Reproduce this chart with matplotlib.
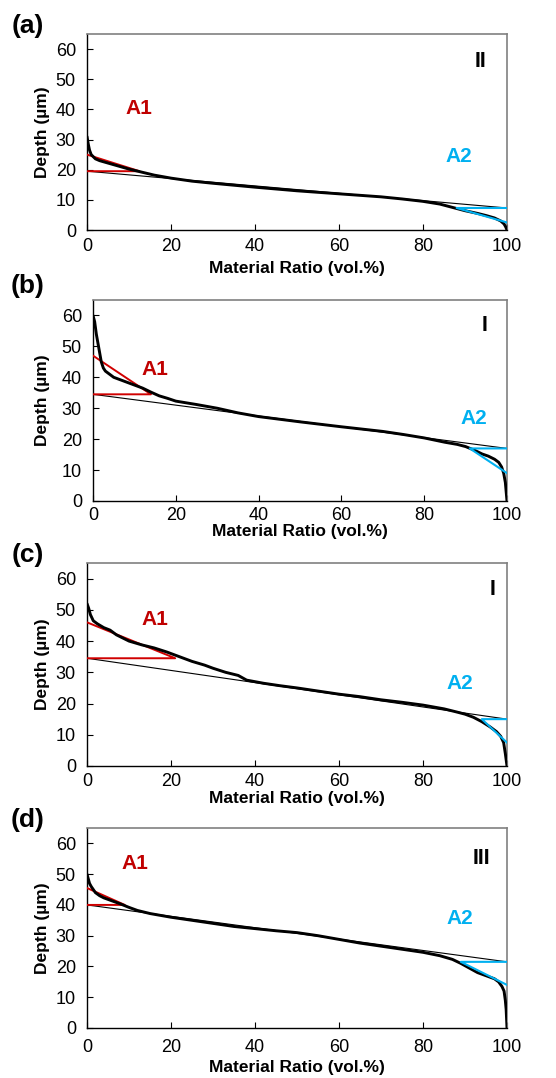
import matplotlib
matplotlib.use("Agg")
import matplotlib.pyplot as plt

plt.rcParams['font.family'] = ['Liberation Sans', 'DejaVu Sans']

# ---------------- data ----------------
# Panel (a)
a_x = [0, 0.3, 0.6, 1, 2, 3, 5, 8, 10, 13, 16, 20, 25, 30, 40, 50, 60, 70, 75, 80, 84, 87, 90, 93, 95, 97, 98.5, 99.3, 99.7, 100]
a_y = [31, 28.5, 26.5, 25, 23.6, 23, 22.2, 21, 20.2, 19.2, 18.2, 17.2, 16.2, 15.5, 14.2, 13, 12, 11, 10.3, 9.5, 8.6, 7.5, 6.4, 5.5, 4.8, 4, 3, 2, 1, 0]
a_base = [19.5, 7.3]
a_red = [[0, 12.5, 0], [19.5, 19.5, 25]]
a_blue = [[100, 88, 100], [7.3, 7.3, 2.5]]

# Panel (b)
b_x = [0, 0.4, 0.8, 1.2, 1.6, 2, 2.5, 3, 4, 5, 6, 8, 10, 12, 14, 16, 18, 20, 25, 30, 35, 40, 50, 60, 70, 75, 80, 85, 88, 90, 92, 94, 95.5, 97, 98, 98.7, 99.2, 99.6, 99.8, 100]
b_y = [60, 58, 54, 51, 48, 45, 43, 42, 41, 40, 39.5, 38.5, 37.5, 36.5, 35.2, 34, 33.2, 32.3, 31.2, 30, 28.5, 27.3, 25.6, 24, 22.5, 21.5, 20.4, 19, 18.3, 17.6, 16.5, 15.2, 14.5, 13.5, 12.5, 11, 9, 6, 3, 0]
b_base = [34.5, 17]
b_red = [[0, 14, 0], [34.5, 34.5, 47]]
b_blue = [[100, 91, 100], [17, 17, 9]]

# Panel (c)
c_x = [0, 0.4, 0.8, 1.5, 2.5, 4, 5.5, 7, 8.5, 10, 13, 16, 19, 22, 25, 28, 30, 33, 36, 38, 42, 46, 50, 55, 60, 65, 70, 75, 80, 85, 88, 90, 92, 94, 96, 97.5, 98.5, 99.2, 99.6, 100]
c_y = [52, 50.5, 48.5, 46.5, 45.5, 44.3, 43.5, 42, 41, 40, 38.8, 37.8, 36.5, 35, 33.5, 32.3, 31.3, 30, 29, 27.5, 26.5, 25.7, 25, 24, 23, 22.2, 21.2, 20.4, 19.5, 18.3, 17.3, 16.6, 15.6, 14.2, 12.5, 11, 9.5, 7.5, 4, 0]
c_base = [34.5, 15]
c_red = [[0, 21, 0], [34.5, 34.5, 46]]
c_blue = [[100, 94, 100], [15, 15, 7.5]]

# Panel (d)
d_x = [0, 0.3, 0.6, 1, 1.5, 2, 3, 4, 6, 8, 10, 12, 15, 20, 25, 30, 35, 40, 45, 50, 55, 60, 65, 70, 75, 80, 84, 87, 89, 91, 93, 95, 97, 98, 98.8, 99.3, 99.6, 99.8, 100]
d_y = [50, 48.5, 47, 46, 45, 44, 43, 42.3, 41.3, 40.3, 39.2, 38.2, 37.2, 36, 35, 34, 33, 32.3, 31.6, 31, 30, 28.8, 27.6, 26.6, 25.6, 24.6, 23.5, 22.3, 21, 19.5, 18, 17, 16, 15, 13.5, 12, 9, 6, 0]
d_base = [40, 21.5]
d_red = [[0, 9, 0], [40, 40, 45.5]]
d_blue = [[100, 89, 100], [21.5, 21.5, 14]]

labels = ["(a)", "(b)", "(c)", "(d)"]
classes = ["II", "I", "I", "III"]
xticks = [0, 20, 40, 60, 80, 100]
yticks = [0, 10, 20, 30, 40, 50, 60]

curves = [(a_x, a_y), (b_x, b_y), (c_x, c_y), (d_x, d_y)]
bases = [a_base, b_base, c_base, d_base]
reds = [a_red, b_red, c_red, d_red]
blues = [a_blue, b_blue, c_blue, d_blue]

# layout in pixels (left, top, right, bottom)
W, H = 556, 1078
boxes = [(87, 34, 507, 230), (93, 300, 507, 501), (87, 563, 507, 766), (87, 828, 507, 1028)]
a1_pos = [(12.4, 40.3), (15, 42.6), (16.2, 46.8), (11.4, 53.6)]
a2_pos = [(88.6, 24.5), (92, 26.8), (88.8, 26.3), (88.8, 35.7)]
cls_pos = [(93.6, 56), (94.7, 56.7), (96.6, 56.4), (94, 55)]
letter_y = [26, 286, 555, 820]
xpad = [6, 4, 5, 8]
xlabelpad = [4, 0.5, 0.5, 3]

RED = '#C00000'
BLUE = '#00B0F0'

fig = plt.figure(figsize=(W / 100, H / 100), dpi=100)
for i in range(4):
    l, t, r, b = boxes[i]
    ax = fig.add_axes([l / W, 1 - b / H, (r - l) / W, (b - t) / H])
    ax.set_xlim(0, 100)
    ax.set_ylim(0, 65)
    ax.set_xticks(xticks)
    ax.set_yticks(yticks)
    ax.tick_params(direction='in', length=4, width=0.8, labelsize=13, colors='black')
    ax.tick_params(axis='x', pad=xpad[i])
    ax.tick_params(axis='y', pad=8)
    for s in ['left', 'bottom']:
        ax.spines[s].set_color('black')
        ax.spines[s].set_linewidth(1.0)
    for s in ['top', 'right']:
        ax.spines[s].set_color('#808080')
        ax.spines[s].set_linewidth(1.2)

    ax.plot([0, 100], bases[i], color='black', lw=0.8, zorder=2)
    ax.plot(reds[i][0], reds[i][1], color='#D00000', lw=1.4, zorder=3)
    cx, cy = curves[i]
    ax.plot(cx, cy, color='black', lw=2.1, zorder=4, solid_capstyle='round')
    ax.plot(blues[i][0], blues[i][1], color=BLUE, lw=1.5, zorder=5)

    ax.text(*a1_pos[i], "A1", color=RED, fontsize=15, fontweight='bold', ha='center', va='center')
    ax.text(*a2_pos[i], "A2", color=BLUE, fontsize=15, fontweight='bold', ha='center', va='center')
    ax.text(*cls_pos[i], classes[i], color='black', fontsize=15.5, fontweight='bold', ha='center', va='center')

    ax.set_xlabel("Material Ratio (vol.%)", fontsize=12.5, fontweight='bold', labelpad=xlabelpad[i])
    ax.set_ylabel("Depth (µm)", fontsize=12.5, fontweight='bold')
    ax.yaxis.set_label_coords((50 - l) / (r - l), 0.5)

    fig.text(28 / W, 1 - letter_y[i] / H, labels[i], fontsize=19, fontweight='bold', ha='center', va='center')

fig.savefig("out.png", dpi=100)
